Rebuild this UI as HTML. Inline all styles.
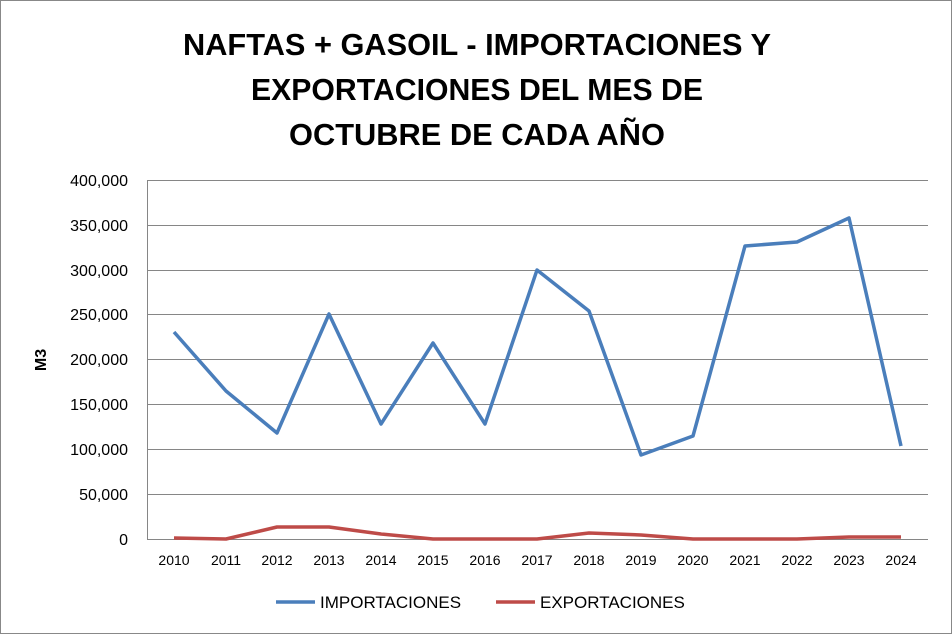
<!DOCTYPE html>
<html><head><style>body{margin:0;background:#fff}</style></head><body>
<svg width="952" height="634" xmlns="http://www.w3.org/2000/svg" font-family="Liberation Sans, sans-serif">
<rect x="0.5" y="0.5" width="951" height="633" fill="#fff" stroke="#888"/>
<g font-weight="bold" font-size="31" text-anchor="middle" fill="#000">
<text x="477" y="55" textLength="588" lengthAdjust="spacingAndGlyphs">NAFTAS + GASOIL - IMPORTACIONES Y</text>
<text x="477" y="100" textLength="452" lengthAdjust="spacingAndGlyphs">EXPORTACIONES DEL MES DE</text>
<text x="477" y="145" textLength="376" lengthAdjust="spacingAndGlyphs">OCTUBRE DE CADA AÑO</text>
</g>
<g stroke="#868686" stroke-width="1">
<line x1="148" y1="180.5" x2="928" y2="180.5"/>
<line x1="148" y1="225.5" x2="928" y2="225.5"/>
<line x1="148" y1="270.5" x2="928" y2="270.5"/>
<line x1="148" y1="314.5" x2="928" y2="314.5"/>
<line x1="148" y1="359.5" x2="928" y2="359.5"/>
<line x1="148" y1="404.5" x2="928" y2="404.5"/>
<line x1="148" y1="449.5" x2="928" y2="449.5"/>
<line x1="148" y1="494.5" x2="928" y2="494.5"/>
<line x1="148" y1="539.5" x2="928" y2="539.5"/>
<line x1="147.5" y1="180" x2="147.5" y2="540"/>
</g>
<g font-size="16" text-anchor="end" fill="#000">
<text x="128" y="186">400,000</text><text x="128" y="231">350,000</text>
<text x="128" y="276">300,000</text><text x="128" y="320">250,000</text>
<text x="128" y="365">200,000</text><text x="128" y="410">150,000</text>
<text x="128" y="455">100,000</text><text x="128" y="500">50,000</text>
<text x="128" y="545">0</text>
</g>
<text x="46" y="360" font-size="16" font-weight="bold" text-anchor="middle" transform="rotate(-90 46 360)">M3</text>
<g font-size="14" text-anchor="middle">
<text x="174" y="565">2010</text><text x="226" y="565">2011</text><text x="277" y="565">2012</text>
<text x="329" y="565">2013</text><text x="381" y="565">2014</text><text x="433" y="565">2015</text>
<text x="485" y="565">2016</text><text x="537" y="565">2017</text><text x="589" y="565">2018</text>
<text x="641" y="565">2019</text><text x="693" y="565">2020</text><text x="745" y="565">2021</text>
<text x="797" y="565">2022</text><text x="849" y="565">2023</text><text x="901" y="565">2024</text>
</g>
<polyline fill="none" stroke="#4a7ebb" stroke-width="3.5" stroke-linejoin="round" points="174,332 226,391 277,433 329,314 381,424 433,343 485,424 537,270 589,311 641,455 693,436 745,246 797,242 849,218 901,446"/>
<polyline fill="none" stroke="#be4b48" stroke-width="3.5" stroke-linejoin="round" points="174,538 226,539 277,527 329,527 381,534 433,539 485,539 537,539 589,533 641,535 693,539 745,539 797,539 849,537 901,537"/>
<line x1="276" y1="602" x2="315" y2="602" stroke="#4a7ebb" stroke-width="3.5"/>
<text x="320" y="608" font-size="17">IMPORTACIONES</text>
<line x1="496" y1="602" x2="535" y2="602" stroke="#be4b48" stroke-width="3.5"/>
<text x="540" y="608" font-size="17">EXPORTACIONES</text>
</svg>
</body></html>
